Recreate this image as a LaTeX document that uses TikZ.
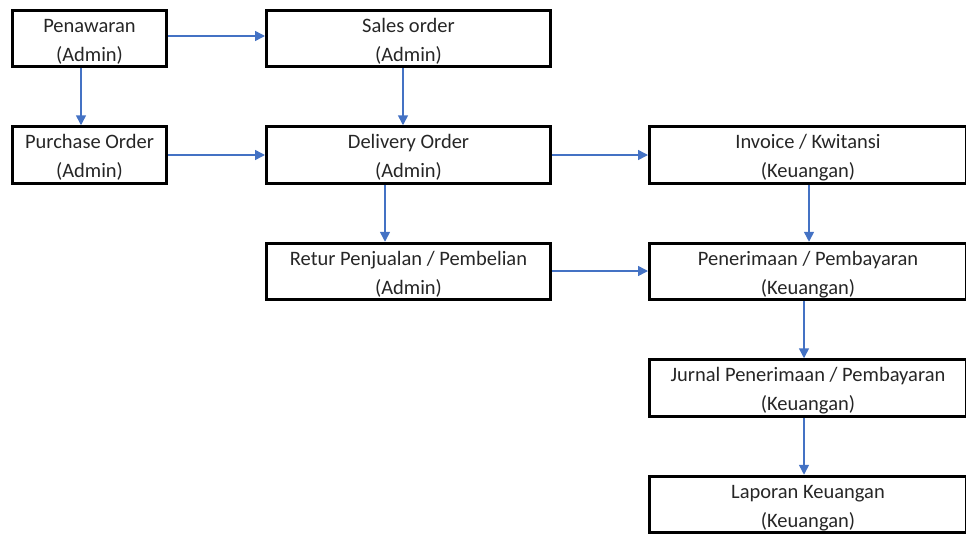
\documentclass[tikz,border=0pt]{standalone}
\usepackage{fontspec}
\setmainfont{Carlito}
\usetikzlibrary{
	arrows.meta,
	positioning,
}
\definecolor{FlowBlue}{HTML}{4472C4}

\begin{document}
\begin{tikzpicture} [
			x=1pt, y=1pt,
			every node/.style={align=center,rectangle},
			proc/.style={draw,line width=3pt,minimum height=56.5pt,inner sep=0pt,
				text height=49.5pt,text depth=4pt,
				text=black!85,font=\fontsize{20.5}{29}\selectfont},
			procS/.style={proc,minimum width=154pt},
			procM/.style={proc,minimum width=284pt},
			procL/.style={proc,minimum width=317pt},
			flow/.style={-{Triangle[length=10pt,width=10pt]},draw=FlowBlue,fill=FlowBlue,line width=1.5pt}
		]
		\path[use as bounding box,clip] (0,0) rectangle (966,-536);

		\node [procS] at (89.5,-38.5) (penawaran) {
			Penawaran \\
			(Admin)
		};
		\node [procM, right=97pt of penawaran] (salesorder) {
			Sales order \\
			(Admin)
		};
		\node [procS, below=57pt of penawaran] (purchase) {
			Purchase Order \\
			(Admin)
		};
		\node [procM, below=57pt of salesorder] (delivery) {
			Delivery Order \\
			(Admin)
		};
		\node [procL, right=96pt of delivery] (invoice) {
			Invoice / Kwitansi \\
			(Keuangan)
		};
		\node [procM, below=57pt of delivery] (retur) {
			Retur Penjualan / Pembelian \\
			(Admin)
		};
		\node [procL, below=57pt of invoice] (penerimaan) {
			Penerimaan / Pembayaran \\
			(Keuangan)
		};
		\node [procL, below=57pt of penerimaan] (jurnal) {
			Jurnal Penerimaan / Pembayaran \\
			(Keuangan)
		};
		\node [procL, below=57pt of jurnal] (laporan) {
			Laporan Keuangan \\
			(Keuangan)
		};

		\path[flow] ([yshift=2.5pt]penawaran.east) -- ([yshift=2.5pt]salesorder.west);
		\path[flow] ([xshift=-8.5pt]penawaran.south) -- ([xshift=-8.5pt]purchase.north);
		\path[flow] ([xshift=-5.5pt]salesorder.south) -- ([xshift=-5.5pt]delivery.north);
		\path[flow] (purchase) -- (delivery);
		\path[flow] (delivery) -- (invoice);
		\path[flow] ([xshift=-23.5pt]delivery.south) -- ([xshift=-23.5pt]retur.north);
		\path[flow] ([yshift=0.5pt]retur.east) -- ([yshift=0.5pt]penerimaan.west);
		\path[flow] ([xshift=1pt]invoice.south) -- ([xshift=1pt]penerimaan.north);
		\path[flow] ([xshift=-4pt]penerimaan.south) -- ([xshift=-4pt]jurnal.north);
		\path[flow] ([xshift=-4pt]jurnal.south) -- ([xshift=-4pt]laporan.north);
	\end{tikzpicture}
\end{document}
